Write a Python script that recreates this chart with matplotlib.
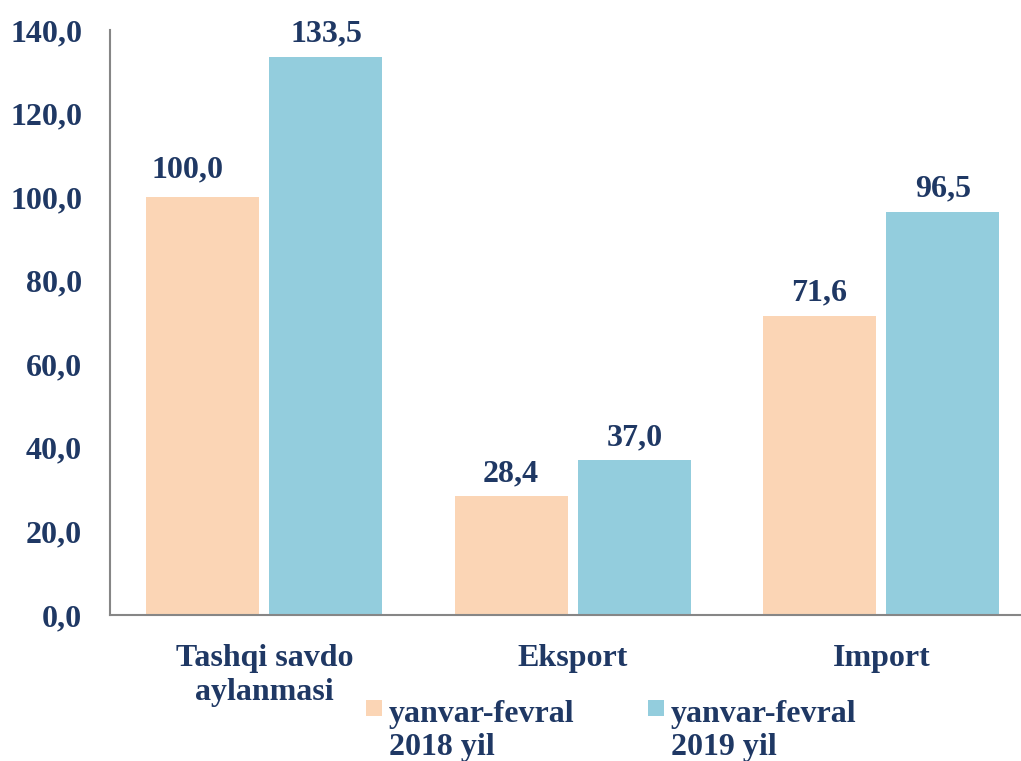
import matplotlib
matplotlib.use("Agg")
import matplotlib.pyplot as plt
from matplotlib.patches import Rectangle
from matplotlib.legend_handler import HandlerPatch
import numpy as np

categories = ["Tashqi savdo\naylanmasi", "Eksport", "Import"]
series_names = ["yanvar-fevral\n2018 yil", "yanvar-fevral\n2019 yil"]
values_2018 = [100.0, 28.4, 71.6]
values_2019 = [133.5, 37.0, 96.5]
yticks = [0, 20, 40, 60, 80, 100, 120, 140]

col_2018 = "#FBD5B5"
col_2019 = "#93CDDD"
txt = "#1F3864"

plt.rcParams['font.family'] = ['Liberation Serif', 'DejaVu Serif']
plt.rcParams['font.weight'] = 'bold'

fig = plt.figure(figsize=(10.21, 7.61), dpi=100)
ax = fig.add_axes([110/1021, 146/761, 925.5/1021, 585/761])

x = np.arange(len(categories))
w = 0.366
b1 = ax.bar(x - 0.2, values_2018, w, color=col_2018, label=series_names[0])
b2 = ax.bar(x + 0.2, values_2019, w, color=col_2019, label=series_names[1])

fmt = lambda v: f"{v:.1f}".replace(".", ",")
anns1 = ax.bar_label(b1, labels=[fmt(v) for v in values_2018], padding=6,
                     fontsize=23, fontweight='bold', color=txt)
anns2 = ax.bar_label(b2, labels=[fmt(v) for v in values_2019], padding=6,
                     fontsize=23, fontweight='bold', color=txt)
# first label sits slightly left and higher in the original
anns1[0].xyann = (-11, anns1[0].xyann[1] + 3)

ax.set_xlim(-0.5, 2.5)
ax.set_ylim(0, 140)
ax.set_yticks(yticks)
ax.set_yticklabels([fmt(v) for v in yticks], fontsize=23, fontweight='bold', color=txt)
ax.set_xticks(x)
ax.set_xticklabels(categories, fontsize=23, fontweight='bold', color=txt, linespacing=1.2)
ax.tick_params(axis='y', length=0, pad=20)
ax.tick_params(axis='x', length=0, pad=21)

for s in ("top", "right"):
    ax.spines[s].set_visible(False)
for s in ("left", "bottom"):
    ax.spines[s].set_color("#868686")
    ax.spines[s].set_linewidth(1.5)

SHIFT = 17  # points: lift square to first text line


def top_square(legend, orig_handle, xdescent, ydescent, width, height, fontsize):
    return Rectangle((-xdescent, -ydescent + SHIFT), width, width)


h1, h2 = b1.patches[0], b2.patches[0]
hm = {h1: HandlerPatch(patch_func=top_square), h2: HandlerPatch(patch_func=top_square)}
leg = fig.legend(handles=[h1, h2], labels=series_names, loc="upper left",
                 bbox_to_anchor=(366/1021, 1 - 700/761),
                 ncol=2, frameon=False, fontsize=23, handlelength=0.5, handleheight=0.5,
                 handletextpad=0.22, columnspacing=2.3, borderpad=0, borderaxespad=0,
                 handler_map=hm)
for t in leg.get_texts():
    t.set_color(txt)
    t.set_fontweight('bold')
    t.set_linespacing(1.2)

fig.savefig("out.png", dpi=100)
